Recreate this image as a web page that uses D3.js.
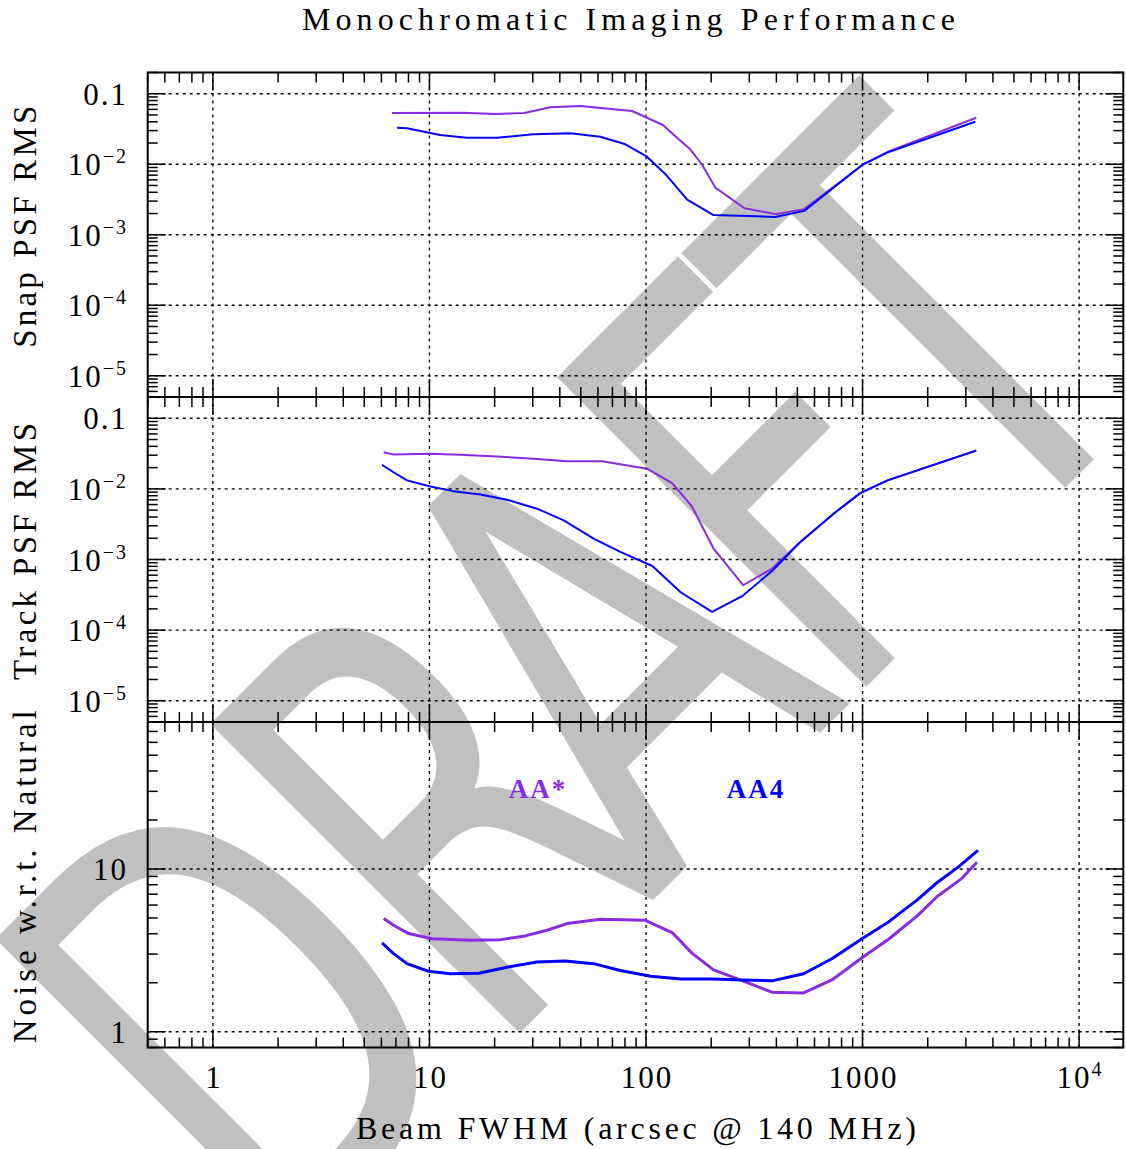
<!DOCTYPE html>
<html>
<head>
<meta charset="utf-8">
<script src="https://cdn.jsdelivr.net/npm/d3@7"></script>
<style>
  html, body { margin: 0; padding: 0; background: #fff; }
  svg { display: block; }
</style>
</head>
<body>
<svg id="chart" width="1126" height="1149"></svg>
<script>
// ---- Data: beam FWHM (arcsec @ 140 MHz) against each metric, per array ----
const snapBeamAAstar = [6.72, 14.1, 20.2, 27.4, 36.2, 49.8, 86.2, 119.8, 139, 160, 181, 209, 285, 395, 538, 997, 1300, 3350];
const snapRmsAAstar  = [0.0533, 0.0538, 0.0516, 0.0533, 0.0642, 0.0670, 0.0569, 0.0360, 0.0238, 0.0163, 0.0100, 0.00466, 0.00238, 0.00196, 0.00231, 0.00977, 0.0149, 0.0457];
const snapBeamAA4    = [7.09, 7.88, 11.2, 14.9, 20.5, 30.2, 44.7, 61.5, 80.3, 101, 123, 155, 205, 395, 538, 997, 1300, 3314];
const snapRmsAA4     = [0.0330, 0.0324, 0.0260, 0.0238, 0.0238, 0.0266, 0.0275, 0.0246, 0.0192, 0.0128, 0.00722, 0.00315, 0.00190, 0.00179, 0.00218, 0.00977, 0.0146, 0.0401];

const trackBeamAAstar = [6.15, 6.83, 10.1, 13.9, 20.5, 30.2, 43.2, 62.7, 101, 132, 163, 205, 281, 382, 516, 735, 976, 1304, 3350];
const trackRmsAAstar  = [0.0331, 0.0307, 0.0314, 0.0304, 0.0288, 0.0267, 0.0247, 0.0247, 0.0193, 0.0121, 0.00565, 0.00143, 0.000432, 0.000744, 0.00177, 0.00445, 0.0087, 0.0132, 0.0350];
const trackBeamAA4    = [6.04, 6.83, 7.88, 10.1, 12.9, 17.2, 22.8, 31.4, 41.7, 57.3, 76.1, 107, 145, 202, 278, 382, 516, 735, 976, 1304, 3350];
const trackRmsAA4     = [0.0219, 0.0172, 0.0132, 0.0108, 0.00929, 0.00835, 0.00702, 0.00524, 0.00358, 0.00198, 0.00128, 0.000809, 0.000341, 0.000181, 0.000302, 0.000688, 0.00177, 0.00445, 0.0087, 0.0132, 0.0348];

const noiseBeamAAstar = [6.15, 6.83, 8.02, 10.3, 15.5, 21.3, 27.7, 34.9, 43.2, 61.5, 99.3, 132, 163, 205, 278, 382, 534, 722, 994, 1318, 1783, 2205, 2877, 3375];
const noiseRatioAAstar = [4.96, 4.51, 4.01, 3.73, 3.65, 3.68, 3.88, 4.20, 4.62, 4.91, 4.84, 4.07, 3.04, 2.40, 2.06, 1.75, 1.73, 2.08, 2.85, 3.70, 5.13, 6.75, 8.76, 11.0];
const noiseBeamAA4    = [6.04, 6.83, 7.88, 9.92, 12.5, 16.9, 22.8, 31.4, 42.4, 57.3, 76.1, 105, 145, 203, 278, 386, 534, 722, 994, 1318, 1783, 2205, 2774, 3411];
const noiseRatioAA4   = [3.51, 3.02, 2.62, 2.35, 2.27, 2.29, 2.49, 2.68, 2.72, 2.62, 2.38, 2.19, 2.11, 2.11, 2.08, 2.06, 2.27, 2.81, 3.73, 4.73, 6.44, 8.23, 10.3, 13.0];

// ---- Tick values and labels ("^" marks a superscript) ----
const beamTicks      = [1, 10, 100, 1000, 10000];
const beamTickLabels = ["1", "10", "100", "1000", "10^4"];
const psfTicks       = [0.1, 1e-2, 1e-3, 1e-4, 1e-5];
const psfTickLabels  = ["0.1", "10^\u22122", "10^\u22123", "10^\u22124", "10^\u22125"];
const noiseTicks     = [1, 10];
const noiseTickLabels = ["1", "10"];

const seriesNames = ["AA*", "AA4"];

// ---- Styling ----
const PURPLE = "#8a2be2";
const BLUE = "#0000ff";
const SERIF = "'Liberation Serif', 'DejaVu Serif', serif";

const W = 1126, H = 1149;
const L = 147.7, R = 1123.3;

const svg = d3.select("#chart");
svg.append("rect").attr("width", W).attr("height", H).attr("fill", "#fff");

// Diagonal "DRAFT" watermark underneath everything
const wm = svg.append("g")
  .attr("transform", "translate(776.5,776.5) rotate(-45) scale(0.68,1)");
wm.append("text")
  .attr("x", [-1040, -593, -253, 128, 447].join(" "))
  .attr("y", 0)
  .attr("font-family", "'DejaVu Sans', sans-serif")
  .attr("font-size", 600)
  .attr("fill", "#c0c0c0")
  .text("DRAFT");

const x = d3.scaleLog().domain([0.5, 16000]).range([L, R]);

const panels = [
  { top: 72.5, bottom: 397, domain: [5e-6, 0.2], ticks: psfTicks, labels: psfTickLabels,
    title: "Snap PSF RMS", titleLen: 242, width: 2,
    series: [[snapBeamAAstar, snapRmsAAstar, PURPLE], [snapBeamAA4, snapRmsAA4, BLUE]] },
  { top: 397, bottom: 722, domain: [5e-6, 0.2], ticks: psfTicks, labels: psfTickLabels,
    title: "Track PSF RMS", titleLen: 257, width: 2,
    series: [[trackBeamAAstar, trackRmsAAstar, PURPLE], [trackBeamAA4, trackRmsAA4, BLUE]] },
  { top: 722, bottom: 1047.5, domain: [0.8, 80], ticks: noiseTicks, labels: noiseTickLabels,
    title: "Noise w.r.t. Natural", titleLen: 333, width: 3,
    series: [[noiseBeamAAstar, noiseRatioAAstar, PURPLE], [noiseBeamAA4, noiseRatioAA4, BLUE]] }
];

const isDecade = v => Math.abs(Math.log10(v) - Math.round(Math.log10(v))) < 1e-6;

function addLabel(g, str, px, py, anchor, size, supSize, supRise, spacing) {
  const [base, sup] = str.split("^");
  const t = g.append("text")
    .attr("x", px).attr("y", py)
    .attr("text-anchor", anchor)
    .attr("font-family", SERIF)
    .attr("font-size", size)
    .attr("letter-spacing", spacing)
    .attr("fill", "#000");
  t.append("tspan").text(base);
  if (sup) t.append("tspan").attr("font-size", supSize).attr("dy", -supRise).text(sup);
  return t;
}

const gridG = svg.append("g");
const lineG = svg.append("g");
const axisG = svg.append("g");

panels.forEach(p => {
  const y = d3.scaleLog().domain(p.domain).range([p.bottom, p.top]);

  // dotted grid at decades
  beamTicks.forEach(v => {
    gridG.append("line")
      .attr("x1", x(v)).attr("x2", x(v)).attr("y1", p.top).attr("y2", p.bottom)
      .attr("stroke", "#000").attr("stroke-width", 1.3).attr("stroke-dasharray", "3,4");
  });
  p.ticks.forEach(v => {
    gridG.append("line")
      .attr("x1", L).attr("x2", R).attr("y1", y(v)).attr("y2", y(v))
      .attr("stroke", "#000").attr("stroke-width", 1.3).attr("stroke-dasharray", "3,4");
  });

  // curves
  const line = d3.line().x(d => x(d[0])).y(d => y(d[1]));
  p.series.forEach(([xs, ys, color]) => {
    lineG.append("path")
      .datum(d3.zip(xs, ys))
      .attr("d", line)
      .attr("fill", "none")
      .attr("stroke", color)
      .attr("stroke-width", p.width)
      .attr("stroke-linejoin", "round");
  });

  // tick marks on all four sides
  x.ticks().filter(v => v >= 0.5 && v <= 16000).forEach(v => {
    const len = isDecade(v) ? 18 : 10;
    const px = x(v);
    axisG.append("line").attr("x1", px).attr("x2", px).attr("y1", p.top).attr("y2", p.top + len)
      .attr("stroke", "#000").attr("stroke-width", 1.5);
    axisG.append("line").attr("x1", px).attr("x2", px).attr("y1", p.bottom).attr("y2", p.bottom - len)
      .attr("stroke", "#000").attr("stroke-width", 1.5);
  });
  y.ticks().forEach(v => {
    const len = isDecade(v) ? 18 : 10;
    const py = y(v);
    axisG.append("line").attr("x1", L).attr("x2", L + len).attr("y1", py).attr("y2", py)
      .attr("stroke", "#000").attr("stroke-width", 1.5);
    axisG.append("line").attr("x1", R).attr("x2", R - len).attr("y1", py).attr("y2", py)
      .attr("stroke", "#000").attr("stroke-width", 1.5);
  });

  // y tick labels
  p.ticks.forEach((v, i) => {
    addLabel(axisG, p.labels[i], 128, y(v) + 11, "end", 31, 20, 12, 2);
  });

  // panel title on the left
  const cy = (p.top + p.bottom) / 2 - 8;
  axisG.append("text")
    .attr("transform", `translate(36,${cy}) rotate(-90)`)
    .attr("text-anchor", "middle")
    .attr("font-family", SERIF)
    .attr("font-size", 33)
    .attr("textLength", p.titleLen)
    .attr("lengthAdjust", "spacing")
    .attr("fill", "#000")
    .text(p.title);
});

// frame and panel separators
axisG.append("rect")
  .attr("x", L).attr("y", 72.5).attr("width", R - L).attr("height", 1047.5 - 72.5)
  .attr("fill", "none").attr("stroke", "#000").attr("stroke-width", 2);
[397, 722].forEach(yy => {
  axisG.append("line").attr("x1", L).attr("x2", R).attr("y1", yy).attr("y2", yy)
    .attr("stroke", "#000").attr("stroke-width", 2);
});

// x tick labels
beamTicks.forEach((v, i) => {
  addLabel(axisG, beamTickLabels[i], x(v) + 1, 1088, "middle", 31, 20, 12, 2);
});

// series labels
const seriesColors = [PURPLE, BLUE];
const seriesLabelX = [538, 756];
seriesNames.forEach((name, i) => {
  axisG.append("text")
    .attr("x", seriesLabelX[i]).attr("y", 798)
    .attr("text-anchor", "middle")
    .attr("font-family", SERIF)
    .attr("font-weight", "bold")
    .attr("font-size", 27)
    .attr("letter-spacing", 2)
    .attr("fill", seriesColors[i])
    .text(name);
});

// title and x axis label
axisG.append("text")
  .attr("x", 628.5).attr("y", 29.5)
  .attr("text-anchor", "middle")
  .attr("font-family", SERIF).attr("font-size", 32)
  .attr("textLength", 653).attr("lengthAdjust", "spacing")
  .attr("fill", "#000")
  .text("Monochromatic Imaging Performance");

axisG.append("text")
  .attr("x", 636).attr("y", 1139)
  .attr("text-anchor", "middle")
  .attr("font-family", SERIF).attr("font-size", 32)
  .attr("textLength", 560).attr("lengthAdjust", "spacing")
  .attr("fill", "#000")
  .text("Beam FWHM (arcsec @ 140 MHz)");
</script>
</body>
</html>
